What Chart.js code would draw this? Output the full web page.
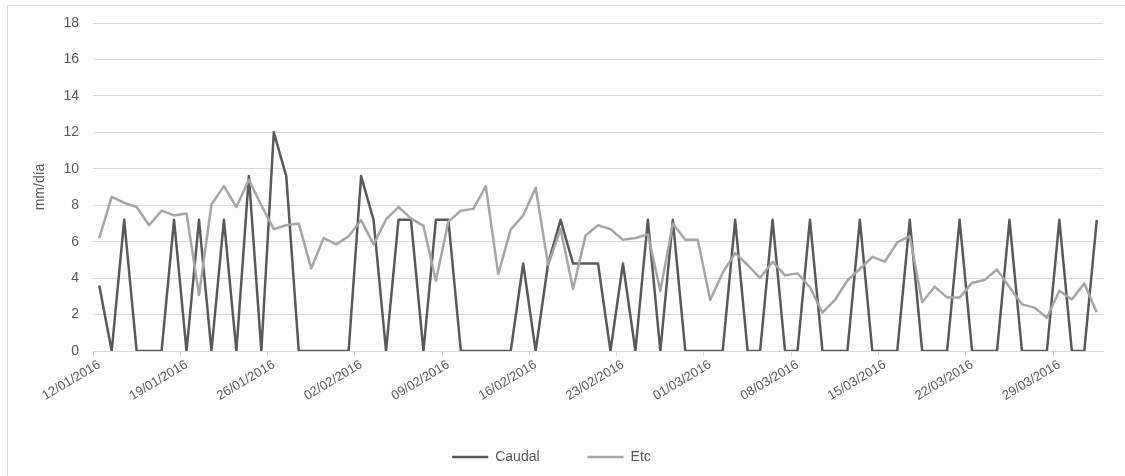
<!DOCTYPE html>
<html>
<head>
<meta charset="utf-8">
<script src="https://cdn.jsdelivr.net/npm/chart.js@4.4.1/dist/chart.umd.min.js"></script>
<style>
  html, body { margin: 0; padding: 0; background: #fff; }
  #c { display: block; }
</style>
</head>
<body>
<canvas id="c" width="1125" height="476"></canvas>
<script>
(function(){
  // daily series, 12/01/2016 .. 01/04/2016
  const firstDay = new Date(2016, 0, 12);
  const dayCount = 81;
  const caudal = [
    3.6, 0, 7.2, 0, 0, 0, 7.2, 0, 7.2, 0, 7.2, 0, 9.6, 0,
    12.0, 9.6, 0, 0, 0, 0, 0, 9.6, 7.2, 0, 7.2, 7.2, 0, 7.2,
    7.2, 0, 0, 0, 0, 0, 4.8, 0, 4.8, 7.2, 4.8, 4.8, 4.8, 0,
    4.8, 0, 7.2, 0, 7.2, 0, 0, 0, 0, 7.2, 0, 0, 7.2, 0,
    0, 7.2, 0, 0, 0, 7.2, 0, 0, 0, 7.2, 0, 0, 0, 7.2,
    0, 0, 0, 7.2, 0, 0, 0, 7.2, 0, 0, 7.2
  ];
  const etc = [
    6.2, 8.46, 8.13, 7.9, 6.9, 7.7, 7.44, 7.55, 3.07, 8.04, 9.05, 7.9, 9.4, 8.0,
    6.69, 6.9, 7.0, 4.53, 6.2, 5.85, 6.3, 7.18, 5.85, 7.22, 7.9, 7.28, 6.87, 3.86,
    7.1, 7.7, 7.8, 9.05, 4.22, 6.67, 7.44, 8.96, 4.72, 6.7, 3.4, 6.33, 6.9, 6.69,
    6.1, 6.2, 6.4, 3.3, 7.0, 6.1, 6.1, 2.8, 4.3, 5.37, 4.72, 4.0, 4.9, 4.15,
    4.26, 3.5, 2.1, 2.8, 3.87, 4.5, 5.17, 4.9, 5.96, 6.3, 2.67, 3.53, 2.93, 2.93,
    3.75, 3.9, 4.48, 3.5, 2.56, 2.38, 1.83, 3.31, 2.83, 3.71, 2.12
  ];
  const yMin = 0, yMax = 18, yStep = 2;
  const tickEvery = 7;

  const pad = (n)=> (n < 10 ? '0' : '') + n;
  const labels = [];
  for (let i = 0; i < dayCount; i++) {
    const d = new Date(firstDay.getFullYear(), firstDay.getMonth(), firstDay.getDate() + i);
    labels.push(pad(d.getDate()) + '/' + pad(d.getMonth() + 1) + '/' + d.getFullYear());
  }

  const txt = '#595959', grid = '#D9D9D9';
  const family = '"Liberation Sans", Arial, sans-serif';
  const font = { family: family, size: 14 };
  const dateFont = { family: family, size: 13 };

  const frame = {
    id: 'frame',
    beforeDraw(chart){
      const c = chart.ctx;
      c.save();
      c.fillStyle = '#fff';
      c.fillRect(0, 0, chart.width, chart.height);
      c.strokeStyle = grid;
      c.lineWidth = 1;
      c.beginPath();
      c.moveTo(7.5, chart.height + 2);
      c.lineTo(7.5, 5.5);
      c.lineTo(chart.width + 2, 5.5);
      c.stroke();
      c.restore();
    }
  };

  new Chart(document.getElementById('c'), {
    type: 'line',
    data: {
      labels: labels,
      datasets: [
        { label: 'Caudal', data: caudal, borderColor: '#595959', backgroundColor: '#595959',
          borderWidth: 2.5, pointRadius: 0, tension: 0, borderJoinStyle: 'round', order: 1 },
        { label: 'Etc', data: etc, borderColor: '#A6A6A6', backgroundColor: '#A6A6A6',
          borderWidth: 2.5, pointRadius: 0, tension: 0, borderJoinStyle: 'round', order: 0 }
      ]
    },
    options: {
      responsive: false,
      animation: false,
      devicePixelRatio: 1,
      layout: { padding: { left: 0, right: 22, top: 23, bottom: 2 } },
      plugins: {
        legend: {
          position: 'bottom',
          labels: {
            color: txt, font: font, usePointStyle: true, pointStyle: 'line',
            pointStyleWidth: 36, boxHeight: 14, padding: 48,
            sort: (a, b) => a.datasetIndex - b.datasetIndex
          }
        },
        tooltip: { enabled: false }
      },
      scales: {
        x: {
          offset: true,
          grid: {
            offset: true, drawOnChartArea: false, drawTicks: true, tickLength: 5,
            color: (ctx) => (ctx.index % tickEvery === 0 ? grid : 'rgba(0,0,0,0)')
          },
          border: { display: true, color: grid },
          ticks: {
            autoSkip: false, minRotation: 31, maxRotation: 31, color: txt, font: dateFont, padding: 1,
            callback: (v, i) => (i % tickEvery === 0 ? labels[i] : '')
          },
          afterFit: (s) => { s.height = 51; }
        },
        y: {
          min: yMin, max: yMax,
          grid: { color: grid, drawTicks: false },
          border: { display: false },
          ticks: { stepSize: yStep, color: txt, font: font, padding: 14 },
          title: { display: true, text: 'mm/día', color: txt, font: font, padding: { top: 32 } },
          afterFit: (s) => { s.width = 93; }
        }
      }
    },
    plugins: [frame]
  });
})();
</script>
</body>
</html>
